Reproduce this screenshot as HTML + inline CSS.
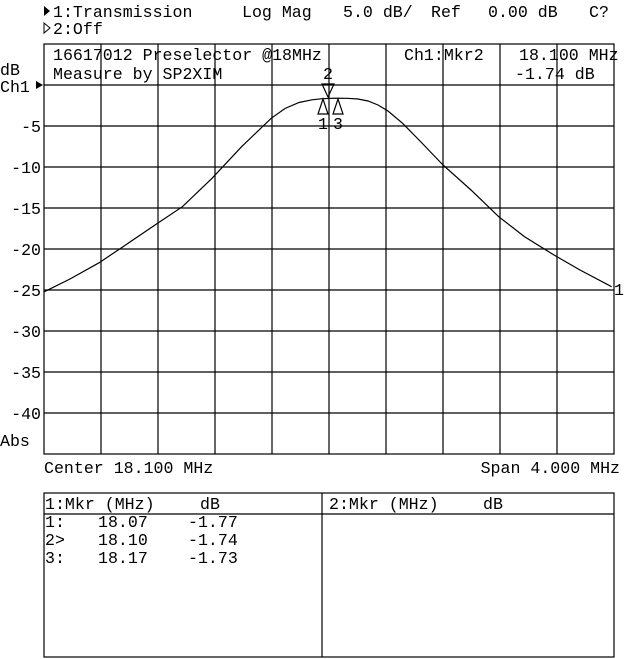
<!DOCTYPE html>
<html><head><meta charset="utf-8"><style>
html,body{margin:0;padding:0;background:#fff;}
svg{display:block}
text{font-family:"Liberation Mono","DejaVu Sans Mono",monospace;font-size:16.6px;fill:#000;}
</style></head><body>
<svg width="640" height="659" viewBox="0 0 640 659" xmlns="http://www.w3.org/2000/svg">
<rect width="640" height="659" fill="#fff"/>
<g stroke="#000" stroke-width="1.2" fill="none">
<rect x="44" y="44" width="570" height="410"/>
<path d="M101 44V454M158 44V454M215 44V454M272 44V454M329 44V454M386 44V454M443 44V454M500 44V454M557 44V454"/>
<path d="M44 85H614M44 126H614M44 167H614M44 208H614M44 249H614M44 290H614M44 331H614M44 372H614M44 413H614"/>
<rect x="44" y="493" width="570" height="164"/>
<path d="M44 514H614M322 493V657"/>
<path d="M44.4 291.7 L70 279 L99.2 262.7 L123 246.7 L156.5 224 L182.4 206.7 L212 178.3 L241.6 146.7 L271.2 118.3 L285 108.5 L299 102.5 L312 99.8 L321 98.8 L334 98.2 L347 98.3 L358 99 L368 101 L378 105 L388 111 L402.6 123.3 L420 141 L443 165 L471 190 L498.7 216.7 L524.6 236.7 L554 255 L580 270 L611.6 286.7"/>
<path d="M322 84H334L328 97Z M318 114H328L323 99Z M333 114H343L338 99Z"/>
</g>
<path d="M36 81L43 85L36 89Z" fill="#000"/>
<path d="M44 6L50 11L44 16Z" fill="#000"/>
<path d="M44 23L50 28L44 33Z" fill="none" stroke="#000"/>
<text x="53" y="17">1:Transmission</text>
<text x="242" y="17">Log Mag</text>
<text x="343" y="17">5.0 dB/</text>
<text x="431" y="17">Ref</text>
<text x="488" y="17">0.00 dB</text>
<text x="589" y="17">C?</text>
<text x="53" y="34">2:Off</text>
<text x="53" y="60">16617012 Preselector @18MHz</text>
<text x="53" y="79">Measure by SP2XIM</text>
<text x="404" y="60">Ch1:Mkr2</text>
<text x="519" y="60">18.100 MHz</text>
<text x="515" y="79">-1.74 dB</text>
<text x="0" y="75">dB</text>
<text x="0" y="92">Ch1</text>
<g text-anchor="end">
<text x="41" y="132">-5</text>
<text x="41" y="173">-10</text>
<text x="41" y="214">-15</text>
<text x="41" y="255">-20</text>
<text x="41" y="296">-25</text>
<text x="41" y="337">-30</text>
<text x="41" y="378">-35</text>
<text x="41" y="419">-40</text>
</g>
<text x="0" y="446">Abs</text>
<g text-anchor="middle">
<text x="328" y="79">2</text>
<text x="323" y="129">1</text>
<text x="338" y="129">3</text>
</g>
<text x="614" y="295">1</text>
<text x="44" y="473">Center 18.100 MHz</text>
<text x="620" y="473" text-anchor="end">Span 4.000 MHz</text>
<text x="45" y="509">1:Mkr (MHz)</text>
<text x="200" y="509">dB</text>
<text x="329" y="509">2:Mkr (MHz)</text>
<text x="483" y="509">dB</text>
<text x="45" y="527">1:</text><text x="98" y="527">18.07</text><text x="188" y="527">-1.77</text>
<text x="45" y="545">2&gt;</text><text x="98" y="545">18.10</text><text x="188" y="545">-1.74</text>
<text x="45" y="563">3:</text><text x="98" y="563">18.17</text><text x="188" y="563">-1.73</text>
</svg>
</body></html>
